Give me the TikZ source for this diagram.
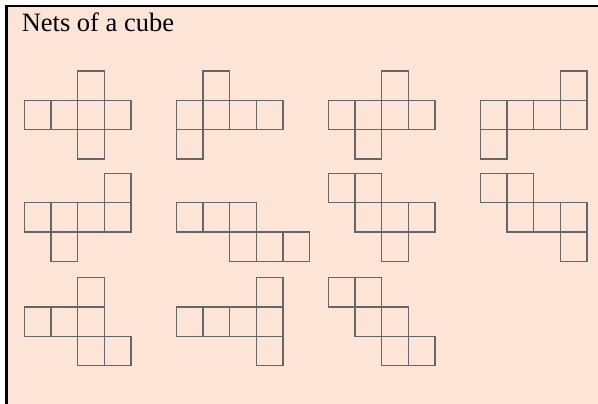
\documentclass[tikz,border=0pt]{standalone}
\usepackage{fontspec}
\setmainfont{Liberation Serif}
\usepackage{xcolor}
\usepackage{tikz}
\definecolor{peach}{HTML}{FCE4D6}

% one net = list of col/row cells, drawn from its top left corner
\newcommand{\cubenet}[3]{%
  \foreach \c/\r in {#3}
    \draw[face] ({#1+\c*26.7},{#2+\r*29.3}) rectangle ++(26.7,29.3);
}

\begin{document}
\begin{tikzpicture}[
    x=1pt, y=-1pt,
    face/.style={draw=black!60, line width=1.35pt},
    frameline/.style={draw=black, line width=2.6pt},
    title/.style={font=\fontsize{26.5}{30}\selectfont, inner sep=0pt, anchor=base west},
]
\useasboundingbox (0,0) rectangle (598,404);

% Background and frame
\fill[white] (0,0) rectangle (598,404);
\fill[peach] (6.5,6) rectangle (598,404);
\draw[frameline] (6.5,404) -- (6.5,6) -- (598,6);

\node[title] (heading) at (21.6,31.5) {Nets of a cube};

% Row 1
\cubenet{24.3}{71}{2/0, 0/1, 1/1, 2/1, 3/1, 2/2}
\cubenet{176.3}{71}{1/0, 0/1, 1/1, 2/1, 3/1, 0/2}
\cubenet{328.3}{71}{2/0, 0/1, 1/1, 2/1, 3/1, 1/2}
\cubenet{480.3}{71}{3/0, 0/1, 1/1, 2/1, 3/1, 0/2}

% Row 2
\cubenet{24.3}{173.5}{3/0, 0/1, 1/1, 2/1, 3/1, 1/2}
\cubenet{176.3}{173.5}{0/1, 1/1, 2/1, 2/2, 3/2, 4/2}
\cubenet{328.3}{173.5}{0/0, 1/0, 1/1, 2/1, 3/1, 2/2}
\cubenet{480.3}{173.5}{0/0, 1/0, 1/1, 2/1, 3/1, 3/2}

% Row 3
\cubenet{24.3}{277.7}{2/0, 0/1, 1/1, 2/1, 2/2, 3/2}
\cubenet{176.3}{277.7}{3/0, 0/1, 1/1, 2/1, 3/1, 3/2}
\cubenet{328.3}{277.7}{0/0, 1/0, 1/1, 2/1, 2/2, 3/2}

\end{tikzpicture}
\end{document}
